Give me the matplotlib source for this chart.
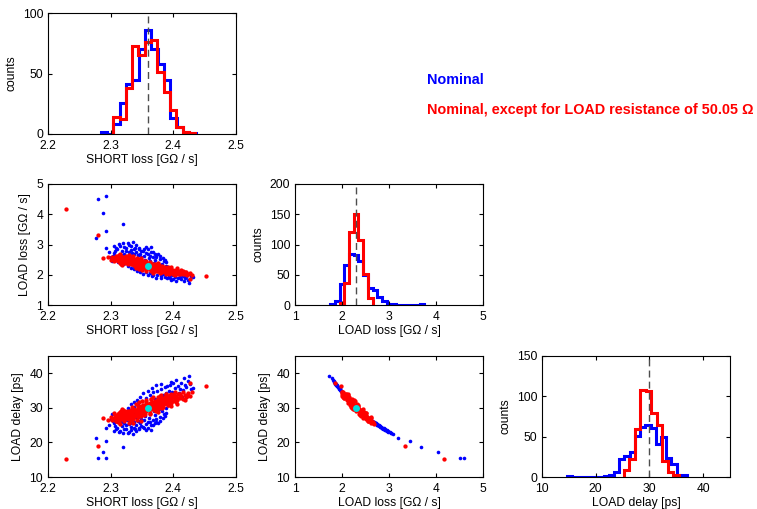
import matplotlib
matplotlib.use('Agg')
import matplotlib.pyplot as plt
import numpy as np

plt.rcParams['font.family'] = ['Liberation Sans', 'DejaVu Sans']
plt.rcParams['font.size'] = 8.7

# --- гистограммы: начало первого бина, ширина бина, счётчики ---
short_blue_start, short_blue_w = 2.284, 0.0101
short_blue_counts = [2, 0, 8, 26, 41, 45, 70, 86, 70, 58, 45, 13, 6, 2, 1]
short_red_start, short_red_w = 2.304, 0.0101
short_red_counts = [14, 12, 38, 73, 65, 76, 78, 51, 35, 20, 6, 2, 1]

loss_blue_start, loss_blue_w = 1.75, 0.1
loss_blue_counts = [2, 7, 35, 66, 85, 83, 73, 50, 28, 25, 14, 6, 2, 1, 0, 0, 0, 0, 0, 1]
loss_red_start, loss_red_w = 1.95, 0.1
loss_red_counts = [4, 36, 120, 151, 108, 51, 11]

delay_blue_start, delay_blue_w = 14.68, 0.97
delay_blue_counts = [1, 0, 0, 0, 0, 0, 0, 1, 3, 6, 22, 26, 31, 51, 62, 65, 61, 41, 50, 24, 16, 3, 3]
delay_red_start, delay_red_w = 25.2, 1.03
delay_red_counts = [9, 22, 60, 108, 107, 79, 65, 20, 6, 3]

# номинальные значения (SHORT loss, LOAD loss, LOAD delay)
nominal = (2.36, 2.3, 30.0)

# --- выборки: (SHORT loss, LOAD loss, LOAD delay) ---
blue_pts = [
    (2.305, 2.72, 25.5), (2.308, 2.60, 26.6), (2.310, 2.85, 24.3), (2.312, 2.48, 27.9),
    (2.315, 2.95, 23.4), (2.316, 2.66, 26.0), (2.318, 2.78, 24.8), (2.320, 2.55, 27.1),
    (2.320, 3.05, 22.6), (2.322, 2.70, 25.6), (2.323, 2.40, 28.8), (2.325, 2.88, 24.0),
    (2.326, 2.62, 26.4), (2.328, 2.50, 27.6), (2.329, 2.98, 23.1), (2.330, 2.74, 25.2),
    (2.331, 2.35, 29.4), (2.333, 2.83, 24.4), (2.334, 2.58, 26.8), (2.335, 2.45, 28.2),
    (2.336, 3.08, 22.4), (2.337, 2.68, 25.8), (2.338, 2.28, 30.3), (2.339, 2.90, 23.8),
    (2.340, 2.52, 27.4), (2.341, 2.76, 25.0), (2.342, 2.38, 29.0), (2.343, 2.64, 26.2),
    (2.344, 2.20, 31.4), (2.345, 2.85, 24.2), (2.346, 2.47, 28.0), (2.347, 2.70, 25.6),
    (2.348, 2.32, 29.8), (2.349, 2.58, 26.8), (2.350, 2.15, 32.0), (2.351, 2.80, 24.6),
    (2.352, 2.42, 28.5), (2.353, 2.62, 26.4), (2.354, 2.26, 30.6), (2.355, 2.50, 27.6),
    (2.356, 2.92, 23.6), (2.357, 2.10, 32.9), (2.358, 2.36, 29.3), (2.359, 2.68, 25.8),
    (2.360, 2.22, 31.1), (2.361, 2.55, 27.1), (2.362, 2.05, 33.6), (2.363, 2.44, 28.3),
    (2.364, 2.75, 25.1), (2.365, 2.30, 30.0), (2.366, 2.18, 31.6), (2.367, 2.60, 26.5),
    (2.368, 2.00, 34.5), (2.369, 2.38, 29.0), (2.370, 2.48, 27.8), (2.371, 2.12, 32.6),
    (2.372, 2.28, 30.3), (2.373, 2.65, 26.0), (2.374, 1.98, 34.9), (2.375, 2.40, 28.7),
    (2.376, 2.16, 31.9), (2.377, 2.32, 29.7), (2.378, 2.08, 33.2), (2.379, 2.52, 27.4),
    (2.380, 1.95, 35.4), (2.381, 2.24, 30.8), (2.382, 2.36, 29.2), (2.383, 2.04, 33.8),
    (2.384, 2.14, 32.2), (2.385, 2.45, 28.2), (2.386, 1.92, 35.9), (2.387, 2.20, 31.4),
    (2.388, 2.02, 34.2), (2.389, 2.30, 30.0), (2.390, 1.90, 36.3), (2.391, 2.10, 32.9),
    (2.392, 2.25, 30.7), (2.393, 1.97, 35.0), (2.394, 2.06, 33.5), (2.395, 1.88, 36.7),
    (2.397, 2.15, 32.1), (2.398, 1.99, 34.7), (2.400, 1.86, 37.1), (2.401, 2.08, 33.2),
    (2.403, 1.94, 35.6), (2.405, 2.12, 32.5), (2.407, 1.90, 36.3), (2.409, 2.02, 34.2),
    (2.412, 1.85, 37.3), (2.415, 1.96, 35.2), (2.418, 1.88, 36.7), (2.420, 2.05, 33.7),
    (2.423, 1.82, 37.9), (2.425, 1.72, 39.2), (2.428, 1.95, 35.4), (2.431, 1.93, 35.7),
    (2.300, 2.58, 26.7), (2.302, 2.45, 28.2), (2.298, 2.75, 25.1), (2.306, 2.95, 23.4),
    (2.309, 2.90, 24.0), (2.313, 3.02, 22.9), (2.317, 2.52, 27.5), (2.321, 2.92, 23.9),
    (2.324, 2.78, 24.9), (2.327, 3.05, 22.8), (2.332, 2.95, 23.5), (2.334, 2.72, 25.6),
    (2.337, 2.86, 24.1), (2.341, 2.98, 23.2), (2.344, 2.64, 26.3), (2.346, 2.90, 23.8),
    (2.349, 2.80, 24.8), (2.353, 2.86, 24.2), (2.356, 2.72, 25.3), (2.359, 2.86, 24.1),
    (2.362, 2.62, 26.0), (2.364, 2.92, 23.7), (2.367, 2.76, 25.0), (2.370, 2.70, 25.5),
    (2.373, 2.58, 26.7), (2.376, 2.68, 25.7), (2.379, 2.62, 26.3), (2.383, 2.55, 27.0),
    (2.386, 2.48, 27.7), (2.389, 2.42, 28.4), (2.352, 2.02, 34.3), (2.347, 2.08, 33.0),
    (2.359, 1.98, 35.0), (2.366, 1.95, 35.6), (2.372, 1.90, 36.6), (2.381, 1.88, 36.9),
    (2.396, 1.84, 37.6), (2.404, 1.80, 38.2), (2.410, 1.94, 35.4), (2.414, 2.05, 33.2),
    (2.417, 1.78, 38.6), (2.421, 1.92, 36.0), (2.426, 1.86, 37.0), (2.342, 2.12, 32.4),
    (2.338, 2.18, 31.8), (2.333, 2.22, 31.0), (2.327, 2.30, 29.9), (2.319, 2.36, 29.0),
    (2.311, 2.42, 28.3), (2.303, 2.62, 26.2), (2.307, 2.80, 24.8), (2.330, 2.60, 26.5),
    (2.280, 4.50, 15.5), (2.293, 4.60, 15.5), (2.287, 4.05, 17.2), (2.320, 3.68, 18.8),
    (2.293, 3.45, 20.3), (2.277, 3.20, 21.2), (2.292, 2.90, 24.3),
]

red_pts = [
    (2.305, 2.55, 27.0), (2.307, 2.48, 27.8), (2.308, 2.62, 26.3), (2.310, 2.52, 27.3),
    (2.311, 2.44, 28.3), (2.312, 2.58, 26.7), (2.314, 2.50, 27.6), (2.315, 2.40, 28.7),
    (2.316, 2.56, 26.9), (2.318, 2.46, 28.0), (2.319, 2.53, 27.2), (2.320, 2.42, 28.5),
    (2.321, 2.60, 26.5), (2.322, 2.47, 27.9), (2.323, 2.38, 29.0), (2.324, 2.54, 27.2),
    (2.325, 2.44, 28.3), (2.326, 2.50, 27.6), (2.327, 2.36, 29.2), (2.328, 2.57, 26.8),
    (2.329, 2.45, 28.2), (2.330, 2.40, 28.8), (2.331, 2.52, 27.4), (2.332, 2.34, 29.5),
    (2.333, 2.47, 27.9), (2.334, 2.42, 28.5), (2.335, 2.55, 27.0), (2.336, 2.37, 29.1),
    (2.337, 2.46, 28.0), (2.338, 2.32, 29.7), (2.339, 2.50, 27.6), (2.340, 2.41, 28.6),
    (2.341, 2.35, 29.4), (2.342, 2.45, 28.2), (2.343, 2.29, 30.1), (2.344, 2.40, 28.8),
    (2.345, 2.48, 27.8), (2.346, 2.33, 29.6), (2.347, 2.38, 29.0), (2.348, 2.26, 30.5),
    (2.349, 2.43, 28.4), (2.350, 2.31, 29.9), (2.351, 2.36, 29.2), (2.352, 2.28, 30.3),
    (2.353, 2.41, 28.6), (2.354, 2.24, 30.8), (2.355, 2.34, 29.5), (2.356, 2.30, 30.0),
    (2.357, 2.38, 29.0), (2.358, 2.22, 31.1), (2.359, 2.32, 29.7), (2.360, 2.27, 30.4),
    (2.361, 2.35, 29.4), (2.362, 2.20, 31.4), (2.363, 2.29, 30.1), (2.364, 2.25, 30.7),
    (2.365, 2.33, 29.6), (2.366, 2.18, 31.7), (2.367, 2.27, 30.4), (2.368, 2.22, 31.1),
    (2.369, 2.30, 30.0), (2.370, 2.16, 32.0), (2.371, 2.25, 30.7), (2.372, 2.20, 31.4),
    (2.373, 2.28, 30.3), (2.374, 2.14, 32.2), (2.375, 2.23, 30.9), (2.376, 2.18, 31.7),
    (2.377, 2.26, 30.5), (2.378, 2.12, 32.5), (2.379, 2.21, 31.2), (2.380, 2.16, 32.0),
    (2.381, 2.24, 30.8), (2.382, 2.10, 32.9), (2.383, 2.19, 31.5), (2.384, 2.14, 32.2),
    (2.385, 2.22, 31.1), (2.386, 2.08, 33.2), (2.387, 2.17, 31.8), (2.388, 2.12, 32.5),
    (2.389, 2.20, 31.4), (2.390, 2.06, 33.5), (2.391, 2.15, 32.1), (2.392, 2.10, 32.9),
    (2.393, 2.18, 31.7), (2.395, 2.05, 33.7), (2.396, 2.13, 32.4), (2.398, 2.08, 33.2),
    (2.399, 2.16, 32.0), (2.401, 2.04, 33.8), (2.402, 2.11, 32.7), (2.404, 2.07, 33.3),
    (2.406, 2.14, 32.2), (2.408, 2.03, 34.0), (2.410, 2.10, 32.9), (2.412, 2.06, 33.5),
    (2.415, 2.12, 32.5), (2.418, 2.04, 33.8), (2.421, 2.09, 33.0), (2.424, 2.02, 34.2),
    (2.427, 2.07, 33.3), (2.430, 1.99, 34.7), (2.426, 1.86, 37.2), (2.452, 1.97, 36.2),
    (2.302, 2.60, 26.5), (2.300, 2.50, 27.5), (2.313, 2.65, 26.0), (2.317, 2.36, 29.2),
    (2.333, 2.58, 26.7), (2.343, 2.52, 27.4), (2.353, 2.47, 27.9), (2.362, 2.42, 28.5),
    (2.372, 2.36, 29.2), (2.382, 2.30, 30.0), (2.392, 2.25, 30.7), (2.340, 2.22, 31.1),
    (2.350, 2.16, 32.0), (2.365, 2.12, 32.5), (2.378, 2.06, 33.5), (2.388, 2.03, 34.0),
    (2.309, 2.58, 26.2), (2.311, 2.63, 25.8), (2.313, 2.47, 28.6), (2.317, 2.61, 27.1),
    (2.319, 2.41, 29.4), (2.322, 2.56, 26.1), (2.324, 2.62, 27.3), (2.326, 2.39, 27.9),
    (2.327, 2.52, 28.6), (2.331, 2.44, 27.1), (2.332, 2.60, 26.4), (2.334, 2.35, 30.2),
    (2.336, 2.51, 26.9), (2.338, 2.43, 29.3), (2.339, 2.29, 29.0), (2.342, 2.56, 26.6),
    (2.344, 2.33, 30.6), (2.345, 2.26, 29.6), (2.347, 2.50, 28.5), (2.348, 2.40, 27.7),
    (2.351, 2.22, 30.9), (2.352, 2.46, 28.9), (2.354, 2.37, 28.1), (2.356, 2.19, 31.8),
    (2.357, 2.44, 29.6), (2.358, 2.31, 30.8), (2.361, 2.25, 29.8), (2.363, 2.39, 28.2),
    (2.364, 2.17, 32.6), (2.366, 2.34, 30.9), (2.367, 2.21, 29.9), (2.369, 2.37, 29.5),
    (2.371, 2.14, 31.6), (2.372, 2.31, 31.2), (2.374, 2.24, 29.6), (2.376, 2.11, 33.0),
    (2.377, 2.33, 30.1), (2.379, 2.17, 30.8), (2.381, 2.08, 33.6), (2.383, 2.27, 31.9),
    (2.384, 2.20, 30.2), (2.386, 2.13, 31.4), (2.387, 2.26, 32.4), (2.389, 2.09, 33.9),
    (2.391, 2.19, 30.9), (2.393, 2.04, 32.8), (2.394, 2.21, 32.6), (2.396, 2.08, 34.1),
    (2.397, 2.17, 31.5), (2.399, 2.03, 33.1), (2.400, 2.13, 33.6), (2.403, 2.00, 34.5),
    (2.405, 2.16, 31.7), (2.407, 2.05, 32.9), (2.409, 2.12, 34.0), (2.411, 2.01, 33.9),
    (2.413, 2.15, 33.0), (2.416, 2.03, 34.6), (2.419, 2.10, 32.3), (2.422, 2.00, 33.5),
    (2.406, 2.22, 31.0), (2.397, 2.26, 30.6), (2.329, 2.65, 25.6), (2.315, 2.68, 25.4),
    (2.336, 2.62, 25.7), (2.348, 2.55, 26.3), (2.318, 2.33, 29.8), (2.306, 2.45, 28.6),
    (2.356, 2.13, 32.4), (2.368, 2.07, 33.2), (2.346, 2.18, 31.8), (2.376, 2.38, 28.8),
    (2.228, 4.17, 15.3), (2.279, 3.33, 19.1), (2.288, 2.55, 27.0), (2.295, 2.60, 26.5),
]

blue = np.array(blue_pts).T
red = np.array(red_pts).T

lbl_short = 'SHORT loss [GΩ / s]'
lbl_loss = 'LOAD loss [GΩ / s]'
lbl_delay = 'LOAD delay [ps]'

BLUE = (0, 0, 1)
RED = (1, 0, 0)
CYAN = '#00dede'

fig = plt.figure(figsize=(7.57, 5.09), dpi=100)

W, H = 757.0, 509.0
lefts = [48, 295, 542]
tops = [13, 184, 356]


def make_ax(row, col):
    ax = fig.add_axes([lefts[col] / W, 1 - (tops[row] + 121) / H, 188 / W, 121 / H])
    ax.tick_params(direction='in', top=True, right=True, length=3, width=0.8, labelsize=8.7)
    ax.tick_params(axis='x', pad=4)
    ax.tick_params(axis='y', pad=3.5)
    for sp in ax.spines.values():
        sp.set_linewidth(0.8)
    return ax


def hist(ax, bstart, bw, bcounts, rstart, rw, rcounts, nom):
    be = bstart + bw * np.arange(len(bcounts) + 1)
    re = rstart + rw * np.arange(len(rcounts) + 1)
    ax.stairs(bcounts, be, color=BLUE, lw=2.2, baseline=0)
    ax.stairs(rcounts, re, color=RED, lw=2.2, baseline=0)
    ax.axvline(nom, color='0.3', lw=1.0, ls=(0, (5, 3)))
    ax.set_ylabel('counts')


def scatter(ax, ix, iy):
    ax.plot(blue[ix], blue[iy], 'o', color=BLUE, ms=2.6, mew=0)
    ax.plot(red[ix], red[iy], 'o', color=RED, ms=3.1, mew=0)
    ax.plot(nominal[ix], nominal[iy], 'o', color=CYAN, ms=5, mew=0)


# строка 1
ax = make_ax(0, 0)
hist(ax, short_blue_start, short_blue_w, short_blue_counts,
     short_red_start, short_red_w, short_red_counts, nominal[0])
ax.set_xlim(2.2, 2.5)
ax.set_ylim(0, 100)
ax.set_xticks([2.2, 2.3, 2.4, 2.5])
ax.set_yticks([0, 50, 100])
ax.set_xlabel(lbl_short, labelpad=2)

# строка 2
ax = make_ax(1, 0)
scatter(ax, 0, 1)
ax.set_xlim(2.2, 2.5)
ax.set_ylim(1, 5)
ax.set_xticks([2.2, 2.3, 2.4, 2.5])
ax.set_yticks([1, 2, 3, 4, 5])
ax.set_xlabel(lbl_short, labelpad=2)
ax.set_ylabel(lbl_loss)

ax = make_ax(1, 1)
hist(ax, loss_blue_start, loss_blue_w, loss_blue_counts,
     loss_red_start, loss_red_w, loss_red_counts, nominal[1])
ax.set_xlim(1, 5)
ax.set_ylim(0, 200)
ax.set_xticks([1, 2, 3, 4, 5])
ax.set_yticks([0, 50, 100, 150, 200])
ax.set_xlabel(lbl_loss, labelpad=2)

# строка 3
ax = make_ax(2, 0)
scatter(ax, 0, 2)
ax.set_xlim(2.2, 2.5)
ax.set_ylim(10, 45)
ax.set_xticks([2.2, 2.3, 2.4, 2.5])
ax.set_yticks([10, 20, 30, 40])
ax.set_xlabel(lbl_short, labelpad=2)
ax.set_ylabel(lbl_delay)

ax = make_ax(2, 1)
scatter(ax, 1, 2)
ax.set_xlim(1, 5)
ax.set_ylim(10, 45)
ax.set_xticks([1, 2, 3, 4, 5])
ax.set_yticks([10, 20, 30, 40])
ax.set_xlabel(lbl_loss, labelpad=2)
ax.set_ylabel(lbl_delay)

ax = make_ax(2, 2)
hist(ax, delay_blue_start, delay_blue_w, delay_blue_counts,
     delay_red_start, delay_red_w, delay_red_counts, nominal[2])
ax.set_xlim(10, 45)
ax.set_ylim(0, 150)
ax.set_xticks([10, 20, 30, 40])
ax.set_yticks([0, 50, 100, 150])
ax.set_xlabel(lbl_delay, labelpad=2)

# подписи серий
fig.text(427 / W, 1 - 80 / H, 'Nominal', color=BLUE, fontsize=10.4, fontweight='bold', va='center')
fig.text(427 / W, 1 - 110 / H, 'Nominal, except for LOAD resistance of 50.05 Ω', color=RED,
         fontsize=10.4, fontweight='bold', va='center')

plt.savefig('out.png', dpi=100)
plt.close()
